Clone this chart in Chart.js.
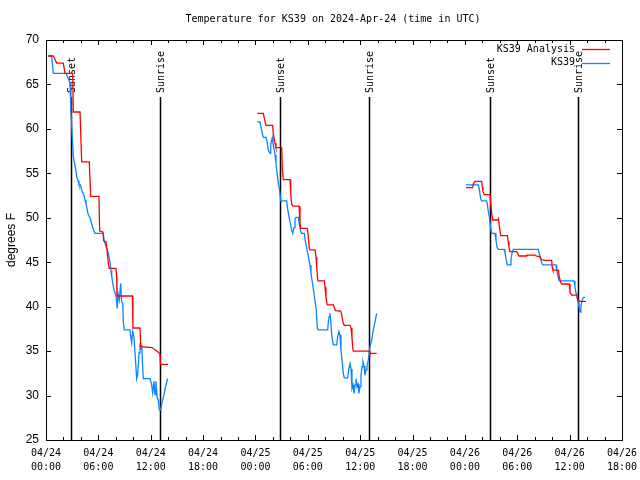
<!DOCTYPE html>
<html>
<head>
<meta charset="utf-8">
<script src="https://cdn.jsdelivr.net/npm/chart.js@4/dist/chart.umd.min.js"></script>
<style>
html,body{margin:0;padding:0;background:#fff;}
#wrap{width:640px;height:480px;}
</style>
</head>
<body>
<div id="wrap"><canvas id="c" width="640" height="480"></canvas></div>
<script>
// ---- data (hours since 04/24 00:00 UTC) ----
const chartTitle = "Temperature for KS39 on 2024-Apr-24 (time in UTC)";
const yAxisTitle = "degrees F";
const seriesNames = ["KS39 Analysis", "KS39"];
const xTickHours = [0, 6, 12, 18, 24, 30, 36, 42, 48, 54, 60, 66];
const yTicks = [25, 30, 35, 40, 45, 50, 55, 60, 65, 70];

const analysisHours = [
  0.26,0.84,1.23,1.98,2.18,3.06,3.13,3.90,4.09,4.96,5.12,6.07,6.15,6.53,6.61,6.87,6.95,7.14,7.25,8.02,8.10,8.13,9.90,9.96,10.77,10.86,12.15,12.83,13.06,13.12,13.98,
  null,
  24.21,24.90,25.06,25.21,25.98,26.04,26.24,26.35,27.01,27.08,27.19,27.96,28.04,28.15,28.30,28.99,29.10,29.18,29.94,30.05,30.17,30.25,30.82,30.94,31.02,31.11,31.17,31.89,31.97,32.08,32.23,32.92,33.03,33.19,33.77,33.88,34.06,34.18,34.83,34.95,35.06,35.14,35.21,37.04,37.12,37.89,
  null,
  48.12,48.89,48.96,49.15,49.92,49.99,50.07,50.19,50.87,50.95,51.07,51.18,51.76,51.85,51.94,52.10,52.86,52.97,53.05,53.17,53.93,54.05,54.20,55.00,55.08,56.03,56.14,56.60,56.68,56.83,57.18,57.94,58.01,58.09,58.70,58.81,58.95,59.09,59.96,60.04,60.23,60.81,60.92,61.19,61.87
];
const analysisTemps = [
  68.2,68.2,67.4,67.4,66.25,66.25,61.9,61.9,56.3,56.3,52.4,52.4,48.5,48.4,47.4,47.3,46.8,44.9,44.3,44.3,43.3,41.2,41.2,37.6,37.6,35.5,35.4,34.9,34.7,33.5,33.5,
  null,
  61.75,61.75,61,60.4,60.4,59.5,58.4,57.9,57.9,55.4,54.3,54.3,52.75,51.5,51.3,51.3,49.5,48.8,48.8,47.9,46.6,46.4,46.4,45.6,44.5,43.2,42.9,42.9,42.2,41,40.2,40.2,39.9,39.55,39.5,39.1,38.1,37.9,37.9,37.6,36.5,35.5,35,35,34.75,34.75,
  null,
  53.4,53.4,53.8,54.1,54.1,53.5,53.0,52.6,52.6,51.7,50.5,49.75,49.75,49.9,49.1,48.0,48.0,47.3,46.7,46.2,46.2,46,45.7,45.7,45.8,45.8,45.7,45.6,45.4,45.3,45.2,45.2,44.4,44.1,44.1,43.4,42.8,42.55,42.55,41.6,41.3,41.3,40.75,40.6,40.6
];

const obsHours = [
  0.23,0.65,0.84,2.29,2.41,2.75,2.86,3.01,3.13,3.24,3.40,3.52,3.67,3.78,3.95,4.09,4.35,4.47,4.58,4.70,4.85,5.04,5.24,5.39,5.61,6.57,6.65,6.87,6.99,7.14,7.33,7.45,7.53,7.64,7.79,8.02,8.17,8.25,8.40,8.56,8.67,8.79,8.86,8.97,9.62,9.70,9.82,9.93,10.08,10.20,10.39,10.51,10.66,10.77,10.89,10.97,11.08,11.15,11.92,12.11,12.23,12.37,12.49,12.60,12.75,12.87,12.98,13.14,13.26,13.37,13.52,13.64,13.83,13.94,
  null,
  24.21,24.52,24.63,24.83,24.90,25.21,25.36,25.47,25.67,25.75,25.86,25.93,26.01,26.12,26.24,26.35,26.50,26.62,26.73,26.85,26.89,27.58,27.65,27.76,27.88,28.04,28.15,28.27,28.42,28.53,28.65,28.91,29.02,29.18,29.30,29.60,29.68,29.87,30.05,30.25,30.36,30.48,30.63,30.74,30.86,30.97,31.09,31.20,32.28,32.35,32.46,32.54,32.62,32.74,32.92,33.31,33.42,33.57,33.69,33.80,33.95,34.06,34.18,34.57,34.68,34.83,34.95,35.06,35.18,35.29,35.41,35.52,35.64,35.75,35.86,35.98,36.09,36.21,36.32,36.44,36.55,36.67,36.78,36.89,37.01,37.12,37.32,37.50,37.70,37.89,
  null,
  48.12,49.53,49.65,49.81,49.92,50.49,50.56,50.68,50.79,50.91,51.02,51.14,51.45,51.56,51.68,51.82,52.48,52.59,52.71,52.86,53.17,53.28,53.39,53.54,56.41,56.52,56.68,56.80,56.91,58.44,58.52,58.70,58.81,60.50,60.61,60.73,60.84,60.99,61.07,61.19,61.30,61.38,61.47,61.57,61.76
];
const obsTemps = [
  68.2,68.2,66.25,66.25,66,65.2,62,59.1,56.9,56.3,55.5,54.6,54.2,53.7,53.7,53.1,52.5,52,51.6,51,50.3,50,49.3,48.8,48.25,48.25,47.5,46.8,46.5,46,45,44,43.4,42.7,41.9,41.2,39.8,41.5,40.75,42.6,40.5,40.4,38.3,37.4,37.4,36.7,35.9,37.2,36.6,34.8,31.9,32.4,34.8,35.9,35.2,35.7,33.1,31.9,31.9,31.2,30.3,31.6,30.1,31.6,29.7,29.5,28.4,28.4,29.1,29.5,30.1,30.8,31.5,31.9,
  null,
  60.8,60.8,60.2,59.3,59.05,59.05,58.4,57.6,57.25,58.2,58.75,59.0,58.3,57.8,57.1,56.1,54.8,53.9,53.3,52.4,51.9,51.9,51.2,50.6,49.9,49.2,48.6,48.25,48.9,49.9,50.05,50.05,49.3,48.5,48.25,48.25,47.6,46.6,45.7,44.7,43.8,43,42,41.2,40.4,39.6,37.6,37.4,37.4,38.3,38.9,39.25,38.5,36.8,35.7,35.7,36.6,37.2,36.8,35.1,33.7,32.5,32,32,32.9,33.6,33,30.8,31.2,30.25,31.2,31.9,31,31.3,30.25,31,32.2,33.25,33.8,33.3,32.3,32.9,33.3,33.8,34.5,35.5,36.25,37.4,38.3,39.25,
  null,
  53.7,53.7,53.2,52.1,51.9,51.9,51.6,50.7,50.2,49.2,48.4,48.25,48.25,47.5,46.7,46.45,46.45,46.1,45.4,44.7,44.7,45.25,46,46.45,46.45,46.0,45.4,44.9,44.7,44.7,44.1,43.3,42.9,42.9,42.3,41.5,41.3,40.4,40,39.4,40,40.6,40.8,41.05,41.05
];

const sunHours = [2.86, 13.06, 26.81, 37.01, 50.88, 60.96];
const sunLabels = ["Sunset", "Sunrise", "Sunset", "Sunrise", "Sunset", "Sunrise"];

// ---- build datasets ----
function pts(xs, ys) {
  return xs.map((x, i) => (x === null ? {x: NaN, y: null} : {x: x, y: ys[i]}));
}
const colors = ["#ff0000", "#0a84ff"];
const mono = "'DejaVu Sans Mono', monospace";
const sans = "'Liberation Sans', Arial, sans-serif";

const framePlugin = {
  id: 'frame',
  beforeDatasetsDraw(chart) {
    const ctx = chart.ctx, xs = chart.scales.x, a = chart.chartArea;
    ctx.save();
    ctx.strokeStyle = '#000';
    ctx.lineWidth = 1.5;
    ctx.fillStyle = '#000';
    ctx.font = '10px ' + mono;
    sunHours.forEach((h, i) => {
      const px = Math.round(xs.getPixelForValue(h)) + 0.5;
      ctx.beginPath();
      ctx.moveTo(px, a.top + 57);
      ctx.lineTo(px, a.bottom);
      ctx.stroke();
      ctx.save();
      ctx.translate(px + 1, a.top + 53);
      ctx.rotate(-Math.PI / 2);
      ctx.textAlign = 'left';
      ctx.textBaseline = 'middle';
      ctx.fillText(sunLabels[i], 0, 0);
      ctx.restore();
    });
    ctx.restore();
  },
  afterDraw(chart) {
    const ctx = chart.ctx, xs = chart.scales.x, ys = chart.scales.y, a = chart.chartArea;
    ctx.save();
    ctx.strokeStyle = '#000';
    ctx.lineWidth = 1;
    ctx.strokeRect(Math.round(a.left) + 0.5, Math.round(a.top) + 0.5, Math.round(a.right - a.left), Math.round(a.bottom - a.top));
    ctx.beginPath();
    for (let h = 0; h <= 66; h += 2) {
      const px = Math.round(xs.getPixelForValue(h)) + 0.5;
      const len = (h % 6 === 0) ? 5 : 3;
      ctx.moveTo(px, a.bottom); ctx.lineTo(px, a.bottom - len);
      ctx.moveTo(px, a.top); ctx.lineTo(px, a.top + len);
    }
    yTicks.forEach(v => {
      const py = Math.round(ys.getPixelForValue(v)) + 0.5;
      ctx.moveTo(a.left, py); ctx.lineTo(a.left + 5, py);
      ctx.moveTo(a.right, py); ctx.lineTo(a.right - 5, py);
    });
    ctx.stroke();
    // title
    ctx.fillStyle = '#000';
    ctx.font = '10px ' + mono;
    ctx.textAlign = 'center';
    ctx.textBaseline = 'middle';
    ctx.fillText(chartTitle, (a.left + a.right) / 2 - 1, 19);
    // legend
    ctx.textAlign = 'right';
    chart.data.datasets.forEach((ds, i) => {
      const ly = a.top + 9 + i * 13.5;
      ctx.fillStyle = '#000';
      ctx.fillText(ds.label, a.right - 47, ly);
      ctx.strokeStyle = ds.borderColor;
      ctx.lineWidth = 1.3;
      ctx.beginPath();
      ctx.moveTo(a.right - 40, Math.round(ly) + 0.5);
      ctx.lineTo(a.right - 12, Math.round(ly) + 0.5);
      ctx.stroke();
    });
    ctx.restore();
  }
};

new Chart(document.getElementById('c'), {
  type: 'line',
  data: {
    datasets: [
      {label: seriesNames[0], data: pts(analysisHours, analysisTemps), borderColor: colors[0], borderWidth: 1.3, pointRadius: 0, tension: 0, spanGaps: false, fill: false},
      {label: seriesNames[1], data: pts(obsHours, obsTemps), borderColor: colors[1], borderWidth: 1.3, pointRadius: 0, tension: 0, spanGaps: false, fill: false}
    ]
  },
  options: {
    responsive: false,
    animation: false,
    parsing: false,
    normalized: true,
    layout: {padding: {top: 40, right: 0, left: 0, bottom: 0}},
    plugins: {legend: {display: false}, title: {display: false}, tooltip: {enabled: false}},
    scales: {
      x: {
        type: 'linear', min: 0, max: 66,
        grid: {display: false, drawTicks: false},
        border: {display: false},
        afterFit(s) { s.height = 40; s.paddingRight = 18; s.paddingLeft = 0; },
        afterBuildTicks(s) { s.ticks = xTickHours.map(v => ({value: v})); },
        ticks: {
          autoSkip: false, maxRotation: 0, minRotation: 0, padding: 6, color: '#000',
          font: {family: mono, size: 10, lineHeight: 1.4},
          callback(v) {
            const day = 24 + Math.floor(v / 24);
            const hr = v % 24;
            return ['04/' + day, String(hr).padStart(2, '0') + ':00'];
          }
        }
      },
      y: {
        type: 'linear', min: 25, max: 70,
        grid: {display: false, drawTicks: false},
        border: {display: false},
        afterFit(s) { s.width = 46; },
        afterBuildTicks(s) { s.ticks = yTicks.map(v => ({value: v})); },
        ticks: {padding: 7, color: '#000', font: {family: sans, size: 12}},
        title: {display: true, text: yAxisTitle, color: '#000', font: {family: sans, size: 12}, padding: {top: 4, bottom: 0}}
      }
    }
  },
  plugins: [framePlugin]
});
</script>
</body>
</html>
